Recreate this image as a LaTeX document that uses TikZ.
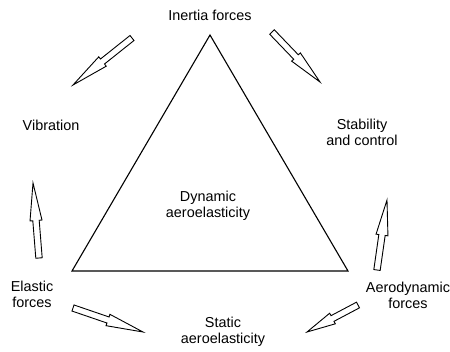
\documentclass[tikz,border=0pt]{standalone}
\usepackage{fontspec}
\setmainfont{Liberation Sans}
\usetikzlibrary{calc}
\tikzset{
  lbl/.style={font=\fontsize{14.4}{15.5}\selectfont, align=center, inner sep=0pt, anchor=base},
  blk/.style={draw=black, line width=0.9pt, fill=white, line join=miter},
  tri/.style={draw=black, line width=1.1pt, line join=miter}
}
\newcommand\blkarrow[2]{%
  \draw[blk] ($(#1)!3.2pt!90:(#2)$)
    -- ($($(#1)!0.5!(#2)$)!3.2pt!-90:(#1)$)
    -- ($($(#1)!0.5!(#2)$)!6.0pt!-90:(#1)$)
    -- (#2)
    -- ($($(#1)!0.5!(#2)$)!6.0pt!90:(#1)$)
    -- ($($(#1)!0.5!(#2)$)!3.2pt!90:(#1)$)
    -- ($(#1)!3.2pt!-90:(#2)$) -- cycle;}
\begin{document}
\begin{tikzpicture}[x=1pt,y=-1pt]
\useasboundingbox (0,0) rectangle (450,351);
% triangle
\coordinate (T) at (210,35);
\coordinate (L) at (72,271);
\coordinate (R) at (348,271);
\draw[tri] (T) -- (L) -- (R) -- cycle;
% labels (anchor base = last line baseline)
\node[lbl] (inertia) at (210,20) {Inertia forces};
\node[lbl] (vib) at (51,130) {Vibration};
\node[lbl] (stab) at (362,145) {Stability\\and control};
\node[lbl] (dyn) at (208,217) {Dynamic\\aeroelasticity};
\node[lbl] (elastic) at (32,307) {Elastic\\forces};
\node[lbl] (aero) at (408,308) {Aerodynamic\\forces};
\node[lbl] (static) at (223,343) {Static\\aeroelasticity};
% arrows
\coordinate (a1s) at (132,38);  \coordinate (a1e) at (73,85);
\coordinate (a2s) at (272,32);  \coordinate (a2e) at (320,82);
\coordinate (a3s) at (39,258);  \coordinate (a3e) at (33,183);
\coordinate (a4s) at (377,270); \coordinate (a4e) at (387,200);
\coordinate (a5s) at (73,308);  \coordinate (a5e) at (143,332);
\coordinate (a6s) at (358,305); \coordinate (a6e) at (307,332);
\blkarrow{a1s}{a1e}
\blkarrow{a2s}{a2e}
\blkarrow{a3s}{a3e}
\blkarrow{a4s}{a4e}
\blkarrow{a5s}{a5e}
\blkarrow{a6s}{a6e}
\end{tikzpicture}
\end{document}
